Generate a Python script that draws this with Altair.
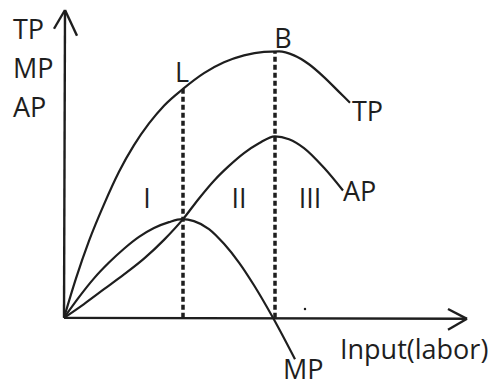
import altair as alt
import pandas as pd

# ---- curve data (input of labour vs output) ----
tp_x = [0, 12, 25, 40, 55, 70, 85, 100, 119, 140, 160, 180, 200, 215, 230, 245, 260, 275, 286]
tp_y = [0, 40, 78, 115, 148, 175, 197, 215, 232, 248, 259, 266, 269.5, 270, 266, 257, 244, 229, 218]

ap_x = [0, 20, 40, 60, 80, 100, 119, 135, 150, 165, 180, 195, 211, 225, 240, 260, 279]
ap_y = [0, 14, 29, 44, 60, 79, 100, 121, 139, 154, 167, 177, 184, 181, 172, 152, 129]

mp_x = [0, 15, 30, 45, 60, 75, 90, 105, 118, 130, 145, 160, 175, 190, 209, 231]
mp_y = [0, 21, 40, 56, 70, 82, 91, 97, 100, 98, 90, 75, 56, 33, 0, -42]

# stage boundaries (L and B) and TP height there
guide_x = [119, 211]
guide_top = [232, 270]

# axis segments (x, y, x2, y2)
seg_x = [0, 0, -10, 1, 384, 384]
seg_y = [0, 0, 293, 312, 9, -12]
seg_x2 = [1, 403, 1, 13, 403, 403]
seg_y2 = [311, -1, 312, 286, -1, -1]

# labels
lab_left_text = ["TP", "MP", "AP", "TP", "AP", "MP", "Input(labor)"]
lab_left_x = [-51, -51, -51, 288, 279, 219, 276]
lab_left_y = [283, 243, 204, 199, 118, -62, -42]

lab_mid_text = ["L", "B", "I", "II", "III"]
lab_mid_x = [118, 219, 83, 175, 246]
lab_mid_y = [239, 273, 111, 111, 111]

dot_x = [241]
dot_y = [9]

INK = "#1e1e1e"
FONT = "Open Sans"
FS = 27

curves = pd.concat([
    pd.DataFrame({"curve": "TP", "x": tp_x, "y": tp_y}),
    pd.DataFrame({"curve": "AP", "x": ap_x, "y": ap_y}),
    pd.DataFrame({"curve": "MP", "x": mp_x, "y": mp_y}),
])
guides = pd.DataFrame({"x": guide_x, "y0": [0, 0], "y1": guide_top})
segs = pd.DataFrame({"x": seg_x, "y": seg_y, "x2": seg_x2, "y2": seg_y2})
lab_left = pd.DataFrame({"t": lab_left_text, "x": lab_left_x, "y": lab_left_y})
lab_mid = pd.DataFrame({"t": lab_mid_text, "x": lab_mid_x, "y": lab_mid_y})
dots = pd.DataFrame({"x": dot_x, "y": dot_y})

xs = alt.Scale(domain=[-56, 426], nice=False, zero=False)
ys = alt.Scale(domain=[-63, 313], nice=False, zero=False)
X = lambda f="x": alt.X(f, type="quantitative", scale=xs, axis=None)
Y = lambda f="y": alt.Y(f, type="quantitative", scale=ys, axis=None)

lines = alt.Chart(curves).mark_line(
    interpolate="monotone", color=INK, strokeWidth=2.2
).encode(x=X(), y=Y(), detail="curve:N")

dashed = alt.Chart(guides).mark_rule(
    color=INK, strokeWidth=3.5, strokeDash=[5, 3]
).encode(x=X(), y=Y("y0"), y2="y1:Q")

axes = alt.Chart(segs).mark_rule(color=INK, strokeWidth=2.4).encode(
    x=X(), y=Y(), x2="x2:Q", y2="y2:Q"
)

t_left = alt.Chart(lab_left).mark_text(
    align="left", baseline="alphabetic", font=FONT, fontSize=FS, color=INK
).encode(x=X(), y=Y(), text="t:N")

t_mid = alt.Chart(lab_mid).mark_text(
    align="center", baseline="alphabetic", font=FONT, fontSize=FS, color=INK
).encode(x=X(), y=Y(), text="t:N")

dot = alt.Chart(dots).mark_point(
    filled=True, size=6, color=INK, opacity=1
).encode(x=X(), y=Y())

chart = alt.layer(lines, dashed, axes, t_left, t_mid, dot).properties(
    width=482, height=376, padding=0,
    autosize=alt.AutoSizeParams(type="fit", contains="padding"),
    background="white",
).configure_view(stroke=None)

chart.save("out.html", embed_options={"renderer": "svg", "actions": False})
